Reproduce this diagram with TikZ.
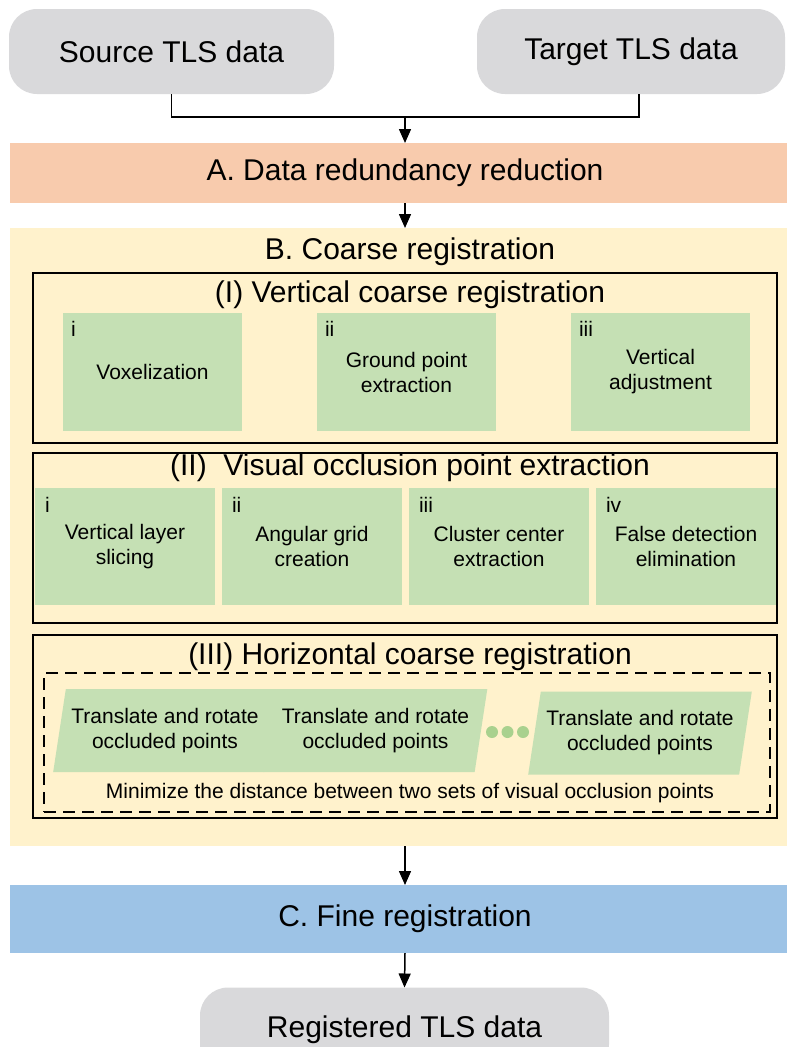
\documentclass[tikz,border=0pt]{standalone}
\usepackage{fontspec}
\setmainfont{Liberation Sans}
\usepackage{tikz}
\usetikzlibrary{positioning}
\usetikzlibrary{arrows.meta}
\usetikzlibrary{shapes.geometric}

\definecolor{datagray}{RGB}{217,217,219}
\definecolor{redorange}{RGB}{248,203,173}
\definecolor{coarseyellow}{RGB}{255,242,204}
\definecolor{stepgreen}{RGB}{197,224,180}
\definecolor{dotgreen}{RGB}{169,209,142}
\definecolor{fineblue}{RGB}{157,195,230}

\begin{document}
\begin{tikzpicture}
      [x=1pt, y=-1pt,
       every node/.style={inner sep=0pt, outer sep=0pt},
       big/.style={font=\fontsize{30}{36}\selectfont},
       small/.style={font=\fontsize{21}{25}\selectfont, align=center},
       num/.style={font=\fontsize{21}{25}\selectfont, anchor=north west},
       data/.style={big, fill=datagray, rounded corners=28pt, minimum height=85pt},
       band/.style={big, minimum width=790pt, minimum height=60pt},
       frame/.style={draw, line width=1.5pt, minimum width=744pt},
       stepbox/.style={small, fill=stepgreen, minimum width=179pt, minimum height=118pt},
       movebox/.style={small, trapezium, trapezium left angle=75, trapezium right angle=105,
                       trapezium stretches=true, fill=stepgreen,
                       minimum width=224pt, minimum height=83pt},
       flow/.style={line width=1.5pt, -{Triangle[width=12pt,length=14pt]}}]
    \clip (0,0) rectangle (787,1047);

    % input and output data
    \node[data, minimum width=325pt] (src) at (171.5,51.5) {Source TLS data};
    \node[data, minimum width=308pt] (tgt) at (631,51.5) {Target TLS data};
    \node[data, minimum width=409pt] (reg) at (404.5,1030) {Registered TLS data};

    % main stages
    \node[band, fill=redorange] (A) at (405,173) {A. Data redundancy reduction};
    \node[fill=coarseyellow, minimum width=790pt, minimum height=618pt] (B) at (405,537) {};
    \node[big] (Btitle) at (410,252) {B. Coarse registration};
    \node[band, fill=fineblue, minimum height=68pt] (C) at (405,919) {C. Fine registration};

    % (I)
    \node[frame, minimum height=170pt] (I) at (405,358) {};
    \node[big] (Ititle) at (410,295) {(I) Vertical coarse registration};
    \node[stepbox] (v1) at (152.5,372) {Voxelization};
    \node[stepbox] (v2) [right=75pt of v1] {Ground point\\extraction};
    \node[stepbox] (v3) [right=75pt of v2] {Vertical\\adjustment};
    \node[num] (v1n) at ([shift={(8,8)}]v1.north west) {i};
    \node[num] (v2n) at ([shift={(8,8)}]v2.north west) {ii};
    \node[num] (v3n) at ([shift={(8,8)}]v3.north west) {iii};

    % (II)
    \node[frame, minimum height=170pt] (II) at (405,538) {};
    \node[big] (IItitle) at (410,468) {(II)~ Visual occlusion point extraction};
    \node[stepbox, minimum width=180pt, minimum height=117pt] (o1) at (125,546.5) {Vertical layer\\slicing};
    \node[stepbox, minimum width=180pt, minimum height=117pt] (o2) [right=7pt of o1] {Angular grid\\creation};
    \node[stepbox, minimum width=180pt, minimum height=117pt] (o3) [right=7pt of o2] {Cluster center\\extraction};
    \node[stepbox, minimum width=180pt, minimum height=117pt] (o4) [right=7pt of o3] {False detection\\elimination};
    \node[num] (o1n) at ([shift={(10,9)}]o1.north west) {i};
    \node[num] (o2n) at ([shift={(10,9)}]o2.north west) {ii};
    \node[num] (o3n) at ([shift={(10,9)}]o3.north west) {iii};
    \node[num] (o4n) at ([shift={(10,9)}]o4.north west) {iv};

    % (III)
    \node[frame, minimum height=183pt] (III) at (405,726.5) {};
    \node[big] (IIItitle) at (410,657) {(III) Horizontal coarse registration};
    \node[draw, dash pattern=on 12pt off 7pt, line width=1.8pt,
          minimum width=726pt, minimum height=139pt] (loop) at (407,742.5) {};
    \node[movebox] (m1) at (165,730.5) {Translate and rotate\\occluded points};
    \node[movebox] (m2) at (375.5,730.5) {Translate and rotate\\occluded points};
    \node[movebox] (m3) at (640,733) {Translate and rotate\\occluded points};
    \foreach \x in {492,507.5,523}
      \fill[dotgreen] (\x,732) circle (6pt);
    \node[small] (goal) at (410,793) {Minimize the distance between two sets of visual occlusion points};

    % connectors
    \coordinate (j) at (405,117);
    \draw[line width=1.5pt] (src.south) |- (j) -| ([xshift=8pt]tgt.south);
    \path[flow] (j) edge (A.north)
                (A.south) edge (B.north)
                (B.south) edge (C.north)
                (C.south) edge (reg.north);
\end{tikzpicture}
\end{document}
